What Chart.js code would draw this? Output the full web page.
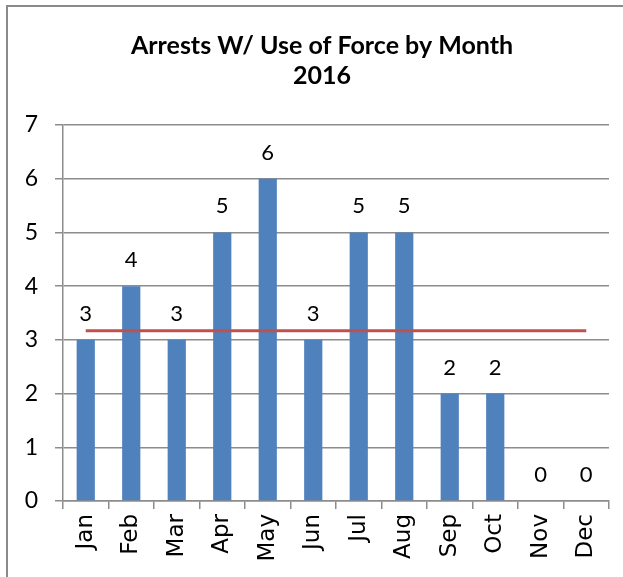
<!DOCTYPE html>
<html>
<head>
<meta charset="utf-8">
<script src="https://cdn.jsdelivr.net/npm/chart.js@4.4.1/dist/chart.umd.min.js"></script>
<style>
    html, body { margin: 0; padding: 0; background: #fff; }
    #frame {
        position: absolute; left: 6px; top: 5px; width: 800px; height: 800px;
        border-left: 2px solid #8a8a8a; border-top: 2px solid #8a8a8a;
    }
    #wrap { position: absolute; left: 0; top: 0; width: 623px; height: 577px; }
</style>
</head>
<body>
<div id="frame"></div>
<div id="wrap"><canvas id="forceChart" width="623" height="577"></canvas></div>
<script>
const months = ['Jan', 'Feb', 'Mar', 'Apr', 'May', 'Jun', 'Jul', 'Aug', 'Sep', 'Oct', 'Nov', 'Dec'];
const arrests = [3, 4, 3, 5, 6, 3, 5, 5, 2, 2, 0, 0];
// red average line
const averageLine = [3.17, 3.17, 3.17, 3.17, 3.17, 3.17, 3.17, 3.17, 3.17, 3.17, 3.17, 3.17];
const yTicks = [0, 1, 2, 3, 4, 5, 6, 7];

const FONT = 'Lato';
const GRID = '#8c8c8c';

// Draw the value above each bar
const barLabels = {
    id: 'barLabels',
    afterDatasetsDraw(chart) {
        const ctx = chart.ctx;
        const meta = chart.getDatasetMeta(1);
        ctx.save();
        ctx.font = '22px ' + FONT;
        ctx.fillStyle = '#000';
        ctx.textAlign = 'center';
        ctx.textBaseline = 'alphabetic';
        meta.data.forEach((bar, i) => {
            ctx.fillText(String(arrests[i]), bar.x, bar.y - 19);
        });
        ctx.restore();
    }
};

// The original title sits a bit right of the canvas centre
const shiftTitle = {
    id: 'shiftTitle',
    afterLayout(chart) {
        if (chart.titleBlock) {
            chart.titleBlock.left = 35;
        }
    }
};

const ctx = document.getElementById('forceChart');
new Chart(ctx, {
    data: {
        labels: months,
        datasets: [{
            type: 'line',
            data: averageLine,
            borderColor: '#C0504D',
            borderWidth: 3,
            pointRadius: 0,
            order: 0
        }, {
            type: 'bar',
            data: arrests,
            backgroundColor: '#4F81BD',
            barPercentage: 0.4,
            categoryPercentage: 1,
            order: 1
        }]
    },
    options: {
        responsive: false,
        animation: false,
        layout: { padding: { left: 14, right: 14, top: 0, bottom: 0 } },
        scales: {
            x: {
                offset: true,
                grid: { drawOnChartArea: false, offset: true, color: GRID, lineWidth: 1.5, tickLength: 8 },
                border: { color: GRID, width: 1.5 },
                ticks: {
                    color: '#000',
                    font: { family: 'DejaVu Sans', size: 23 },
                    minRotation: 90,
                    maxRotation: 90,
                    padding: 5
                },
                afterFit(scale) { scale.height = 76; }
            },
            y: {
                min: 0,
                max: 7,
                afterBuildTicks(scale) { scale.ticks = yTicks.map(v => ({ value: v })); },
                grid: { color: GRID, lineWidth: 1.5, tickLength: 8 },
                border: { color: GRID, width: 1.5 },
                ticks: {
                    color: '#000',
                    font: { family: FONT, size: 23 },
                    padding: 17
                },
                afterFit(scale) { scale.width = 49; }
            }
        },
        plugins: {
            legend: { display: false },
            tooltip: { enabled: false },
            title: {
                display: true,
                text: ['Arrests W/ Use of Force by Month', '2016'],
                color: '#000',
                font: { family: FONT, size: 25, weight: 'bold', lineHeight: 1.2 },
                padding: { top: 31, bottom: 34 }
            }
        }
    },
    plugins: [barLabels, shiftTitle]
});
</script>
</body>
</html>
